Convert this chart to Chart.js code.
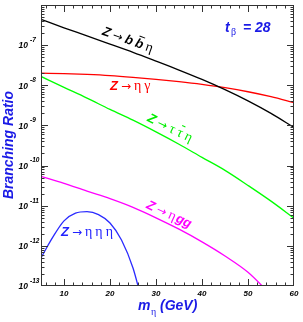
<!DOCTYPE html>
<html>
<head>
  <meta charset="UTF-8" />
  <title>Branching ratios</title>
  <script src="https://cdn.jsdelivr.net/npm/chart.js"></script>
  <style>
    body { margin: 0; background: #fff; }
    #wrap { width: 303px; height: 322px; }
  </style>
</head>
<body>
  <div id="wrap"><canvas id="chart" width="303" height="322"></canvas></div>

  <script>
    // values
    const massBB = [5, 10, 15, 20, 25, 30, 35, 40, 45, 50, 55, 60];
    const brBB = [4.4e-7, 2.7e-7, 1.7e-7, 1.06e-7, 6.6e-8, 4.0e-8, 2.4e-8, 1.4e-8, 7.8e-9, 4.1e-9, 2.0e-9, 8.9e-10];

    const massGam = [5, 10, 15, 20, 25, 30, 35, 40, 45, 50, 55, 60];
    const brGam = [2.0e-8, 1.95e-8, 1.86e-8, 1.74e-8, 1.58e-8, 1.41e-8, 1.23e-8, 1.05e-8, 8.7e-9, 6.9e-9, 5.2e-9, 3.7e-9];

    const massTau = [5, 10, 15, 20, 25, 30, 35, 40, 45, 50, 55, 60];
    const brTau = [1.66e-8, 8.9e-9, 4.8e-9, 2.5e-9, 1.35e-9, 6.9e-10, 3.4e-10, 1.6e-10, 7.6e-11, 3.2e-11, 1.3e-11, 4.9e-12];

    const massGG = [5, 10, 15, 20, 25, 30, 35, 40, 45, 50, 55];
    const brGG = [5.4e-11, 3.6e-11, 2.3e-11, 1.5e-11, 9.1e-12, 5.0e-12, 2.6e-12, 1.26e-12, 5.6e-13, 2.2e-13, 6.0e-14];

    const mass3 = [5, 7.5, 10, 12.5, 15, 17.5, 20, 22.5, 25, 27];
    const br3 = [5.0e-13, 1.6e-12, 4.2e-12, 6.5e-12, 7.1e-12, 6.0e-12, 3.7e-12, 1.4e-12, 2.8e-13, 4.0e-14];

    const xTickLabels = [10, 20, 30, 40, 50, 60];
    const yTickExps = [-13, -12, -11, -10, -9, -8, -7];

    const BLUE = '#1a1ae6';
    const BI = s => `italic bold ${s}px "Liberation Sans", Arial, sans-serif`;
    const GR = s => `${s}px "Liberation Serif", serif`;
    const AR = s => `${s}px "DejaVu Sans", sans-serif`;

    const pts = (xs, ys) => xs.map((x, i) => ({ x: x, y: ys[i] }));

    // curve labels, anchored in data units
    const curveLabels = [
      { x: 23.9, y: 1.4e-7, ang: 20, color: '#000',
        parts: [{ t: 'Z', f: BI(13) }, { t: '→', f: AR(12) }, { t: 'b', f: BI(13) }, { t: 'b', f: BI(13), bar: true }, { t: 'η', f: GR(14) }] },
      { x: 24.4, y: 1.0e-8, ang: 0, color: '#ff0000',
        parts: [{ t: 'Z', f: BI(13) }, { t: '→', f: AR(12) }, { t: 'η', f: GR(14) }, { t: 'γ', f: GR(14) }] },
      { x: 33.1, y: 8.9e-10, ang: 26, color: '#00ee00',
        parts: [{ t: 'Z', f: BI(13) }, { t: '→', f: AR(12) }, { t: 'τ', f: GR(14) }, { t: 'τ', f: GR(14), bar: true }, { t: 'η', f: GR(14) }] },
      { x: 32.9, y: 6.3e-12, ang: 25, color: '#ff00ff',
        parts: [{ t: 'Z', f: BI(13) }, { t: '→', f: AR(12) }, { t: 'η', f: GR(14), gap: -2 }, { t: 'gg', f: BI(13) }] },
      { x: 15, y: 2.3e-12, ang: 0, color: '#2222ff',
        parts: [{ t: 'Z', f: BI(13) }, { t: '→', f: AR(12) }, { t: 'η', f: GR(14) }, { t: 'η', f: GR(14) }, { t: 'η', f: GR(14) }] }
    ];

    const drawRich = (ctx, cx, cy, ang, parts, gap) => {
      ctx.save();
      ctx.translate(cx, cy);
      ctx.rotate(ang * Math.PI / 180);
      let w = 0;
      parts.forEach((p, i) => {
        ctx.font = p.f;
        p.w = ctx.measureText(p.t).width;
        if (i < parts.length - 1) w += gap + (p.gap || 0);
        w += p.w;
      });
      let x = -w / 2;
      ctx.textAlign = 'left';
      ctx.textBaseline = 'alphabetic';
      parts.forEach(p => {
        ctx.font = p.f;
        ctx.fillText(p.t, x, 4.5);
        if (p.bar) {
          ctx.fillRect(x + 1.5, -7.5, p.w - 2, 1);
        }
        x += p.w + gap + (p.gap || 0);
      });
      ctx.restore();
    };

    const framePlugin = {
      id: 'frame',
      afterDraw(chart) {
        const ctx = chart.ctx;
        const a = chart.chartArea;
        const xs = chart.scales.x;
        const ys = chart.scales.y;
        ctx.save();
        ctx.strokeStyle = '#333';
        ctx.lineWidth = 1;
        ctx.strokeRect(Math.round(a.left) + 0.5, Math.round(a.top) + 0.5,
          Math.round(a.right - a.left) - 1, Math.round(a.bottom - a.top) - 1);

        ctx.beginPath();
        // x ticks every 2 GeV, longer on the tens
        for (let v = 6; v < 60; v += 2) {
          const px = Math.round(xs.getPixelForValue(v)) + 0.5;
          const len = v % 10 === 0 ? 7 : 3.5;
          ctx.moveTo(px, a.bottom); ctx.lineTo(px, a.bottom - len);
          ctx.moveTo(px, a.top); ctx.lineTo(px, a.top + len);
        }
        // log ticks
        for (let d = -13; d < -6; d++) {
          for (let k = 1; k <= 9; k++) {
            const v = k * Math.pow(10, d);
            if (v <= 1e-13 || v >= 1e-6) continue;
            const py = Math.round(ys.getPixelForValue(v)) + 0.5;
            const len = k === 1 ? 7 : 3.5;
            ctx.moveTo(a.left, py); ctx.lineTo(a.left + len, py);
            ctx.moveTo(a.right, py); ctx.lineTo(a.right - len, py);
          }
        }
        ctx.stroke();

        // tick labels
        ctx.fillStyle = '#000';
        ctx.font = BI(8);
        ctx.textBaseline = 'middle';
        ctx.textAlign = 'center';
        xTickLabels.forEach(v => {
          ctx.fillText(String(v), xs.getPixelForValue(v), a.bottom + 8);
        });
        yTickExps.forEach(e => {
          const py = ys.getPixelForValue(Math.pow(10, e));
          ctx.font = BI(8.5);
          ctx.textAlign = 'right';
          ctx.fillText('10', 28, py + 1);
          ctx.font = BI(6.5);
          ctx.textAlign = 'left';
          ctx.fillText(String(e), 30, py - 5);
        });

        // curve labels
        curveLabels.forEach(l => {
          ctx.fillStyle = l.color;
          drawRich(ctx, xs.getPixelForValue(l.x), ys.getPixelForValue(l.y), l.ang, l.parts, 3);
        });

        // tan beta
        ctx.fillStyle = BLUE;
        const tx = xs.getPixelForValue(50), ty = ys.getPixelForValue(2.8e-7);
        ctx.textBaseline = 'alphabetic';
        ctx.textAlign = 'left';
        ctx.font = BI(14);
        ctx.fillText('t', tx - 23, ty + 5);
        ctx.font = GR(10);
        ctx.fillText('β', tx - 17, ty + 8);
        ctx.font = BI(14);
        ctx.fillText('= 28', tx - 5, ty + 5);

        // axis titles
        ctx.font = BI(14);
        ctx.fillText('m', 138, 310);
        ctx.font = GR(10);
        ctx.fillText('η', 151, 315);
        ctx.font = BI(14);
        ctx.fillText('(GeV)', 160, 310);

        ctx.save();
        ctx.translate(13, 145);
        ctx.rotate(-Math.PI / 2);
        ctx.textAlign = 'center';
        ctx.fillText('Branching Ratio', 0, 0);
        ctx.restore();

        ctx.restore();
      }
    };

    const line = (data, color) => ({
      data: data,
      borderColor: color,
      borderWidth: 1.3,
      pointRadius: 0,
      fill: false,
      cubicInterpolationMode: 'monotone'
    });

    new Chart(document.getElementById('chart').getContext('2d'), {
      type: 'line',
      data: {
        datasets: [
          line(pts(massBB, brBB), '#000000'),
          line(pts(massGam, brGam), '#ff0000'),
          line(pts(massTau, brTau), '#00ff00'),
          line(pts(massGG, brGG), '#ff00ff'),
          line(pts(mass3, br3), '#2a2aff')
        ]
      },
      options: {
        responsive: false,
        animation: false,
        layout: { padding: { left: 41, right: 9, top: 5, bottom: 36 } },
        plugins: { legend: { display: false }, tooltip: { enabled: false } },
        scales: {
          x: { type: 'linear', min: 5, max: 60, display: false },
          y: { type: 'logarithmic', min: 1e-13, max: 1e-6, display: false }
        }
      },
      plugins: [framePlugin]
    });
  </script>
</body>
</html>
